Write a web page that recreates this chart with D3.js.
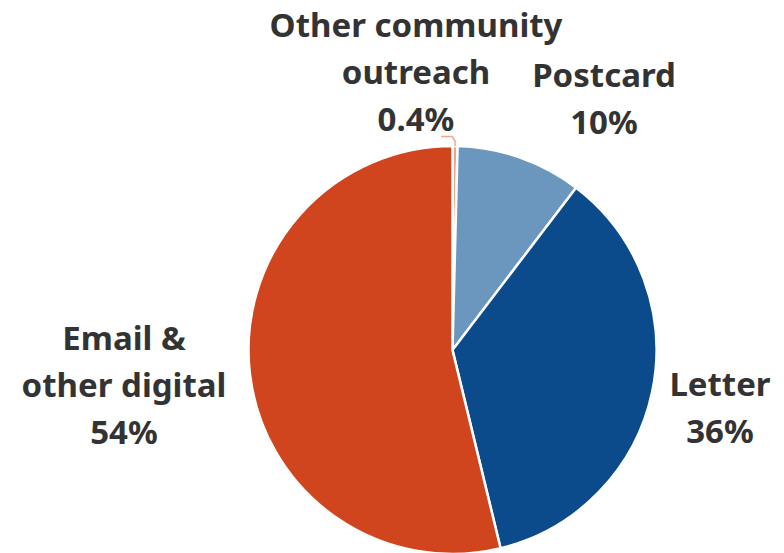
<!DOCTYPE html>
<html>
<head>
<meta charset="utf-8">
<script src="https://cdn.jsdelivr.net/npm/d3@7"></script>
<style>
  html, body { margin: 0; padding: 0; background: #fff; }
  svg { display: block; }
  text { font-family: "Noto Sans", "Open Sans", sans-serif; font-weight: 700; fill: #333; }
</style>
</head>
<body>
<svg id="chart" width="784" height="553"></svg>
<script>
// Outreach channels, clockwise from 12 o'clock
const categories = ["Other community outreach", "Postcard", "Letter", "Email & other digital"];
const shares = [0.4, 10, 36, 54];
const valueLabels = ["0.4%", "10%", "36%", "54%"];
const labelLines = [
  ["Other community", "outreach"],
  ["Postcard"],
  ["Letter"],
  ["Email &", "other digital"]
];
const colors = ["#f4a38f", "#6b97be", "#0b4a8b", "#d1451e"];

const svg = d3.select("#chart");
const cx = 452.5, cy = 350, radius = 204;

const pie = d3.pie().sort(null).value(d => d)(shares);
const arc = d3.arc().innerRadius(0).outerRadius(radius);

const g = svg.append("g").attr("transform", `translate(${cx},${cy})`);
g.selectAll("path.slice")
  .data(pie)
  .join("path")
  .attr("class", "slice")
  .attr("d", arc)
  .attr("fill", (d, i) => colors[i])
  .attr("stroke", "#fff")
  .attr("stroke-width", 2.5);

// leader line for the thin slice at the top
const tiny = pie[0];
const midA = (tiny.startAngle + tiny.endAngle) / 2;
const px = radius * Math.sin(midA), py = -radius * Math.cos(midA);
g.append("path")
  .attr("d", d3.line()([[px, py], [px, py - 5], [px - 3, py - 9.5], [px - 14, py - 9.5]]))
  .attr("fill", "none")
  .attr("stroke", colors[0])
  .attr("stroke-width", 1.5);

// label anchors (centre x, first baseline)
const labelPos = [
  [416, 37],
  [604, 87],
  [720, 396],
  [124, 350]
];
const lineH = 47;
const fontSize = 33;

labelPos.forEach((p, i) => {
  const lines = labelLines[i].concat([valueLabels[i]]);
  const t = svg.append("text")
    .attr("text-anchor", "middle")
    .attr("font-size", fontSize);
  lines.forEach((s, j) => {
    t.append("tspan").attr("x", p[0]).attr("y", p[1] + j * lineH).text(s);
  });
});
</script>
</body>
</html>
